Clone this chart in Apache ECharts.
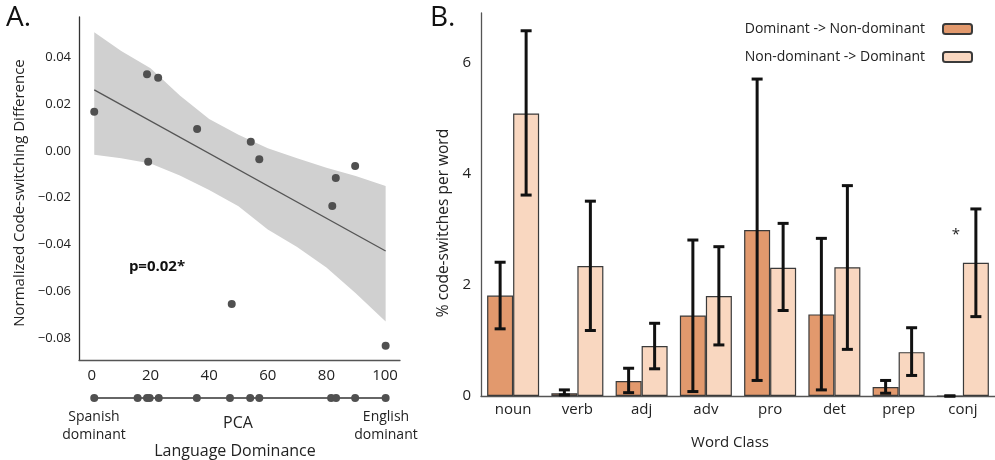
<!DOCTYPE html>
<html>
<head>
<meta charset="utf-8">
<script src="https://cdn.jsdelivr.net/npm/echarts@6/dist/echarts.min.js"></script>
<style>
html,body{margin:0;padding:0;background:#fff;}
#chart{width:995px;height:460px;}
</style>
</head>
<body>
<div id="chart"></div>
<script>
// ---------- Panel A data ----------
const scatterX = [0.8, 18.8, 22.6, 19.2, 35.9, 54.2, 57.1, 89.8, 83.2, 82.0, 47.7, 100.2];
const scatterY = [0.0167, 0.0327, 0.0312, -0.0046, 0.0093, 0.0039, -0.0036, -0.0064, -0.0116, -0.0235, -0.0653, -0.0831];
const pcaRug = [0.8, 15.6, 18.8, 19.7, 22.8, 35.8, 47.1, 54.0, 57.1, 81.6, 83.3, 89.8, 100.2];
const fitX = [0.8, 100.2];
const fitY = [0.026, -0.0427];
const bandX = [0.8, 10, 20, 30, 40, 50, 60, 70, 80, 90, 100.2];
const bandUpper = [0.0506, 0.0426, 0.0352, 0.0236, 0.0136, 0.0069, 0.0011, -0.0032, -0.0072, -0.0107, -0.0150];
const bandLower = [-0.0017, -0.0031, -0.0054, -0.0105, -0.0167, -0.0236, -0.0335, -0.0410, -0.0497, -0.0607, -0.0728];
const xTicksA = [0, 20, 40, 60, 80, 100];
const yTicksA = [-0.08, -0.06, -0.04, -0.02, 0.00, 0.02, 0.04];

// ---------- Panel B data ----------
const wordClasses = ['noun', 'verb', 'adj', 'adv', 'pro', 'det', 'prep', 'conj'];
const seriesNames = ['Dominant -> Non-dominant', 'Non-dominant -> Dominant'];
const domToNon = [1.81, 0.05, 0.27, 1.45, 2.99, 1.47, 0.16, 0.0];
const domToNonLow = [1.21, 0.02, 0.06, 0.08, 0.28, 0.11, 0.05, 0.0];
const domToNonHigh = [2.41, 0.11, 0.50, 2.81, 5.71, 2.84, 0.28, 0.0];
const nonToDom = [5.09, 2.34, 0.90, 1.80, 2.31, 2.32, 0.79, 2.40];
const nonToDomLow = [3.62, 1.18, 0.49, 0.92, 1.54, 0.84, 0.37, 1.43];
const nonToDomHigh = [6.58, 3.51, 1.31, 2.69, 3.11, 3.79, 1.23, 3.37];
const yTicksB = [0, 2, 4, 6];

const FONT = 'Open Sans';
const TXT = '#222';
const BAR_W = 26;
const DARK = '#E2996D';
const LIGHT = '#F9D7C0';

const chart = echarts.init(document.getElementById('chart'), null, {renderer: 'canvas'});

function fmtA(v) {
  const s = Math.abs(v).toFixed(2);
  return (v < -1e-9 ? '\u2212' : '') + s;
}

function errRender(offsetSign) {
  return function (params, api) {
    const i = api.value(0);
    const lo = api.coord([i, api.value(1)]);
    const hi = api.coord([i, api.value(2)]);
    const x = lo[0] + offsetSign * BAR_W / 2;
    const cap = 5.5;
    const st = {stroke: '#111', lineWidth: 3};
    return {
      type: 'group',
      children: [
        {type: 'line', shape: {x1: x, y1: lo[1], x2: x, y2: hi[1]}, style: st},
        {type: 'line', shape: {x1: x - cap, y1: lo[1], x2: x + cap, y2: lo[1]}, style: st},
        {type: 'line', shape: {x1: x - cap, y1: hi[1], x2: x + cap, y2: hi[1]}, style: st}
      ]
    };
  };
}

const option = {
  animation: false,
  backgroundColor: '#fff',
  textStyle: {fontFamily: FONT},
  legend: {
    data: seriesNames,
    right: 17,
    top: 17,
    orient: 'vertical',
    align: 'right',
    itemWidth: 29,
    itemHeight: 10,
    itemGap: 14,
    textStyle: {fontFamily: FONT, fontSize: 14, color: TXT, lineHeight: 14, padding: [0, 13, 0, 0]}
  },
  grid: [
    {left: 79, top: 17, width: 321, height: 343},
    {left: 79, top: 390, width: 321, height: 16},
    {left: 481, top: 13, width: 515, height: 383}
  ],
  xAxis: [
    {
      type: 'value', gridIndex: 0, min: -4.4, max: 105.1,
      axisLine: {show: true, onZero: false, lineStyle: {color: '#555', width: 1.3}},
      axisTick: {show: false},
      splitLine: {show: false},
      axisLabel: {customValues: xTicksA, fontFamily: FONT, fontSize: 15, color: TXT, margin: 8}
    },
    {
      type: 'value', gridIndex: 1, min: -4.4, max: 105.1, show: false
    },
    {
      type: 'category', gridIndex: 2, data: wordClasses,
      axisLine: {show: true, onZero: false, lineStyle: {color: '#555', width: 1.3}},
      axisTick: {show: false},
      axisLabel: {fontFamily: FONT, fontSize: 15, color: TXT, margin: 6}
    }
  ],
  yAxis: [
    {
      type: 'value', gridIndex: 0, min: -0.0892, max: 0.0571,
      axisLine: {show: true, onZero: false, lineStyle: {color: '#333', width: 1.3}},
      axisTick: {show: false},
      splitLine: {show: false},
      axisLabel: {customValues: yTicksA, formatter: fmtA, fontFamily: FONT, fontSize: 13, color: TXT, margin: 8}
    },
    {
      type: 'value', gridIndex: 1, min: -1, max: 1, show: false
    },
    {
      type: 'value', gridIndex: 2, min: 0, max: 6.9,
      axisLine: {show: true, onZero: false, lineStyle: {color: '#555', width: 1.3}},
      axisTick: {show: false},
      splitLine: {show: false},
      axisLabel: {customValues: yTicksB, fontFamily: FONT, fontSize: 15, color: TXT, margin: 10}
    }
  ],
  series: [
    {
      type: 'custom', xAxisIndex: 0, yAxisIndex: 0, z: 1, silent: true,
      data: [[bandX[0], bandUpper[0]]],
      renderItem: function (params, api) {
        const pts = [];
        for (let k = 0; k < bandX.length; k++) pts.push(api.coord([bandX[k], bandUpper[k]]));
        for (let k = bandX.length - 1; k >= 0; k--) pts.push(api.coord([bandX[k], bandLower[k]]));
        return {type: 'polygon', shape: {points: pts}, style: {fill: '#D0D0D0'}};
      }
    },
    {
      type: 'line', xAxisIndex: 0, yAxisIndex: 0, z: 2,
      data: fitX.map((x, i) => [x, fitY[i]]),
      symbol: 'none',
      lineStyle: {color: '#555', width: 1.3}
    },
    {
      type: 'scatter', xAxisIndex: 0, yAxisIndex: 0, z: 3,
      data: scatterX.map((x, i) => [x, scatterY[i]]),
      symbolSize: 8,
      itemStyle: {color: '#505050', opacity: 1}
    },
    {
      type: 'line', xAxisIndex: 1, yAxisIndex: 1, z: 3,
      data: pcaRug.map(x => [x, 0]),
      symbol: 'circle', symbolSize: 8, showSymbol: true,
      lineStyle: {color: '#666', width: 2},
      itemStyle: {color: '#505050'}
    },
    {
      name: seriesNames[0], type: 'bar', xAxisIndex: 2, yAxisIndex: 2,
      data: domToNon, barWidth: BAR_W, barGap: '0%',
      itemStyle: {color: DARK, borderColor: '#3a3a3a', borderWidth: 1.2}
    },
    {
      name: seriesNames[1], type: 'bar', xAxisIndex: 2, yAxisIndex: 2,
      data: nonToDom, barWidth: BAR_W, barGap: '0%',
      itemStyle: {color: LIGHT, borderColor: '#3a3a3a', borderWidth: 1.2}
    },
    {
      type: 'custom', xAxisIndex: 2, yAxisIndex: 2, z: 5,
      data: wordClasses.map((c, i) => [i, domToNonLow[i], domToNonHigh[i]]),
      renderItem: errRender(-1)
    },
    {
      type: 'custom', xAxisIndex: 2, yAxisIndex: 2, z: 5,
      data: wordClasses.map((c, i) => [i, nonToDomLow[i], nonToDomHigh[i]]),
      renderItem: errRender(1)
    }
  ],
  graphic: [
    {type: 'text', left: 6, top: 4, style: {text: 'A.', font: '28px "Open Sans"', fill: '#111'}},
    {type: 'text', left: 430, top: 4, style: {text: 'B.', font: '28px "Open Sans"', fill: '#111'}},
    {type: 'text', x: 20, y: 193, rotation: Math.PI / 2,
      style: {text: 'Normalized Code-switching Difference', font: '15px "Open Sans"', fill: TXT, align: 'center', verticalAlign: 'middle'}},
    {type: 'text', x: 157, y: 267,
      style: {text: 'p=0.02*', font: 'bold 15px "Open Sans"', fill: '#111', align: 'center', verticalAlign: 'middle'}},
    {type: 'text', x: 94, y: 426,
      style: {text: 'Spanish\ndominant', font: '14px "Open Sans"', fill: TXT, align: 'center', verticalAlign: 'middle', lineHeight: 18}},
    {type: 'text', x: 386, y: 426,
      style: {text: 'English\ndominant', font: '14px "Open Sans"', fill: TXT, align: 'center', verticalAlign: 'middle', lineHeight: 18}},
    {type: 'text', x: 238, y: 423,
      style: {text: 'PCA', font: '16px "Open Sans"', fill: TXT, align: 'center', verticalAlign: 'middle'}},
    {type: 'text', x: 235, y: 451,
      style: {text: 'Language Dominance', font: '16px "Open Sans"', fill: TXT, align: 'center', verticalAlign: 'middle'}},
    {type: 'text', x: 444, y: 223, rotation: Math.PI / 2,
      style: {text: '% code-switches per word', font: '15.5px "Open Sans"', fill: TXT, align: 'center', verticalAlign: 'middle'}},
    {type: 'text', x: 730, y: 443,
      style: {text: 'Word Class', font: '15px "Open Sans"', fill: TXT, align: 'center', verticalAlign: 'middle'}},
    {type: 'text', x: 956, y: 235,
      style: {text: '*', font: '15px "Open Sans"', fill: TXT, align: 'center', verticalAlign: 'middle'}}
  ]
};

chart.setOption(option);
</script>
</body>
</html>
